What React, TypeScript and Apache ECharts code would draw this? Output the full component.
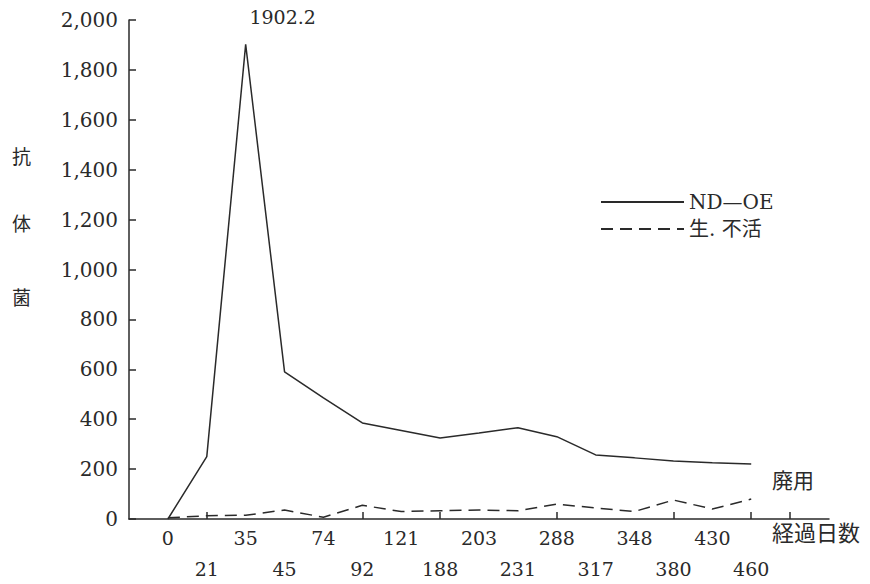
import React, { useEffect, useRef } from "react";
import * as echarts from "echarts";

// Elapsed days (category labels)
const days = ["0", "21", "35", "45", "74", "92", "121", "188", "203", "231", "288", "317", "348", "380", "430", "460"];
// Antibody titer – ND-OE vaccine (solid)
const ndOe = [0, 250, 1902.2, 590, 485, 385, 355, 325, 345, 366, 330, 257, 245, 232, 225, 220];
// Antibody titer – live/inactivated vaccine (dashed)
const liveInact = [5, 13, 15, 36, 7, 55, 30, 33, 36, 33, 60, 44, 30, 76, 40, 80];
// Y tick values
const yMax = 2000;
const yStep = 200;

const FONT = "'DejaVu Serif', 'Noto Sans CJK JP', serif";
const CJK = "'Noto Sans CJK JP', sans-serif";
const INK = "#2a2a2a";

export default function App() {
  const ref = useRef<HTMLDivElement>(null);
  useEffect(() => {
    if (!ref.current) return;
    const chart = echarts.init(ref.current, undefined, { renderer: "svg" });
    // padded categories: one blank before, two blank after
    const cats = ["", ...days, "", ""];
    const pad = (arr: number[]) => [null, ...arr, null, null];
    const tickDays = ["21", "92", "188", "288", "380", "460"];
    chart.setOption({
      animation: false,
      backgroundColor: "#ffffff",
      grid: { left: 129, right: 41, top: 20, bottom: 65, containLabel: false, outerBoundsMode: "none" },
      legend: {
        orient: "vertical",
        left: 595,
        top: 187,
        itemWidth: 83,
        itemHeight: 20,
        itemGap: 7,
        itemStyle: { opacity: 0 },
        data: ["ND\u2014OE", "生. 不活"],
        textStyle: { fontFamily: FONT, fontSize: 20, color: INK },
      },
      xAxis: {
        type: "category",
        data: cats,
        boundaryGap: false,
        axisLine: { lineStyle: { color: INK, width: 1.5 } },
        axisTick: {
          show: true,
          inside: true,
          length: 7,
          lineStyle: { color: INK, width: 1.5 },
          interval: (i: number, v: string) => tickDays.includes(v) || i === cats.length - 2,
        },
        axisLabel: {
          interval: 0,
          margin: 3,
          fontFamily: FONT,
          fontSize: 19,
          color: INK,
          lineHeight: 31,
          formatter: (v: string, i: number) => {
            if (v === "") return "";
            const k = i - 1;
            return k % 2 === 0 ? v : "\n" + v;
          },
        },
        splitLine: { show: false },
      },
      yAxis: {
        type: "value",
        min: 0,
        max: yMax,
        interval: yStep,
        axisLine: { show: true, lineStyle: { color: INK, width: 1.5 } },
        axisTick: { show: true, inside: true, length: 7, lineStyle: { color: INK, width: 1.5 } },
        splitLine: { show: false },
        axisLabel: {
          margin: 11,
          fontFamily: FONT,
          fontSize: 20,
          color: INK,
          formatter: (v: number) => v.toLocaleString("en-US"),
        },
      },
      series: [
        {
          name: "ND\u2014OE",
          type: "line",
          data: pad(ndOe),
          symbol: "none",
          lineStyle: { color: INK, width: 1.5, type: "solid" },
          itemStyle: { color: INK },
          markPoint: {
            symbol: "circle",
            symbolSize: 1,
            itemStyle: { color: "rgba(0,0,0,0)" },
            data: [{ coord: [3, 1902.2], value: 1902.2 }],
            label: {
              show: true,
              position: "top",
              offset: [37, -12],
              formatter: "1902.2",
              fontFamily: FONT,
              fontSize: 19,
              color: INK,
            },
          },
        },
        {
          name: "生. 不活",
          type: "line",
          data: pad(liveInact),
          symbol: "none",
          lineStyle: { color: INK, width: 1.5, type: [12, 7] },
          itemStyle: { color: INK },
        },
      ],
      graphic: [
        { type: "text", left: 12, top: 146, style: { text: "抗", font: `19px ${CJK}`, fill: INK } },
        { type: "text", left: 12, top: 213, style: { text: "体", font: `19px ${CJK}`, fill: INK } },
        { type: "text", left: 12, top: 287, style: { text: "菌", font: `19px ${CJK}`, fill: INK } },
        { type: "text", left: 772, top: 468, style: { text: "廃用", font: `21px ${CJK}`, fill: INK } },
        { type: "text", left: 772, top: 520, style: { text: "経過日数", font: `22px ${CJK}`, fill: INK } },
      ],
    });
    return () => chart.dispose();
  }, []);
  return <div ref={ref} style={{ width: 870, height: 584, position: "absolute", left: 0, top: 0 }} />;
}
